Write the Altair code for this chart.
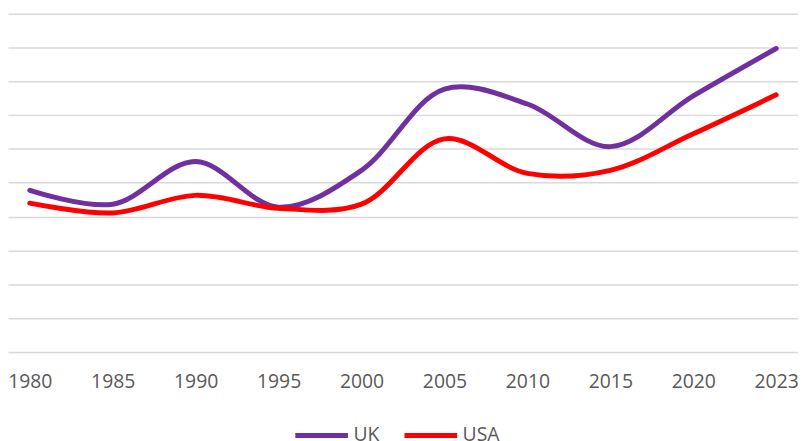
import altair as alt
import pandas as pd

years = ["1980", "1985", "1990", "1995", "2000", "2005", "2010", "2015", "2020", "2023"]
uk = [4.78, 4.37, 5.63, 4.28, 5.37, 7.77, 7.33, 6.07, 7.57, 8.97]
usa = [4.40, 4.11, 4.63, 4.25, 4.37, 6.30, 5.28, 5.37, 6.45, 7.60]
series = ["UK", "USA"]
colors = ["#7030A0", "#FF0000"]
grid_values = list(range(0, 11))

rows = []
for name, vals in zip(series, [uk, usa]):
    for y, v in zip(years, vals):
        rows.append({"year": y, "value": v, "country": name})
df = pd.DataFrame(rows)

FONT = "Open Sans"

chart = alt.Chart(df).mark_line(
    interpolate="catmull-rom", strokeWidth=5, strokeCap="round"
).encode(
    x=alt.X("year:O", sort=years,
            scale=alt.Scale(type="point", padding=0.263),
            axis=alt.Axis(title=None, labelAngle=0, ticks=False, domain=False,
                          grid=False, labelFont=FONT, labelFontSize=19.5,
                          labelColor="#595959", labelPadding=21)),
    y=alt.Y("value:Q",
            scale=alt.Scale(domain=[0, 10.117], nice=False, zero=False),
            axis=alt.Axis(title=None, labels=False, ticks=False, domain=False,
                          values=grid_values, grid=True, gridColor="#d9d9d9",
                          gridWidth=1.5)),
    color=alt.Color("country:N", sort=series,
                    scale=alt.Scale(domain=series, range=colors),
                    legend=alt.Legend(title=None, orient="none", direction="horizontal",
                                      legendX=287, legendY=400, symbolType="stroke",
                                      symbolSize=2809, symbolStrokeWidth=5,
                                      labelFont=FONT, labelFontSize=19.5,
                                      labelColor="#595959", labelOffset=3,
                                      columnPadding=14, padding=0)),
).properties(
    width=796, height=345,
    autosize=alt.AutoSizeParams(type="none"),
    padding={"left": 0, "top": 0, "right": 0, "bottom": 100},
).configure_view(stroke=None)

chart.save("out.html", embed_options={"renderer": "svg", "actions": False})
